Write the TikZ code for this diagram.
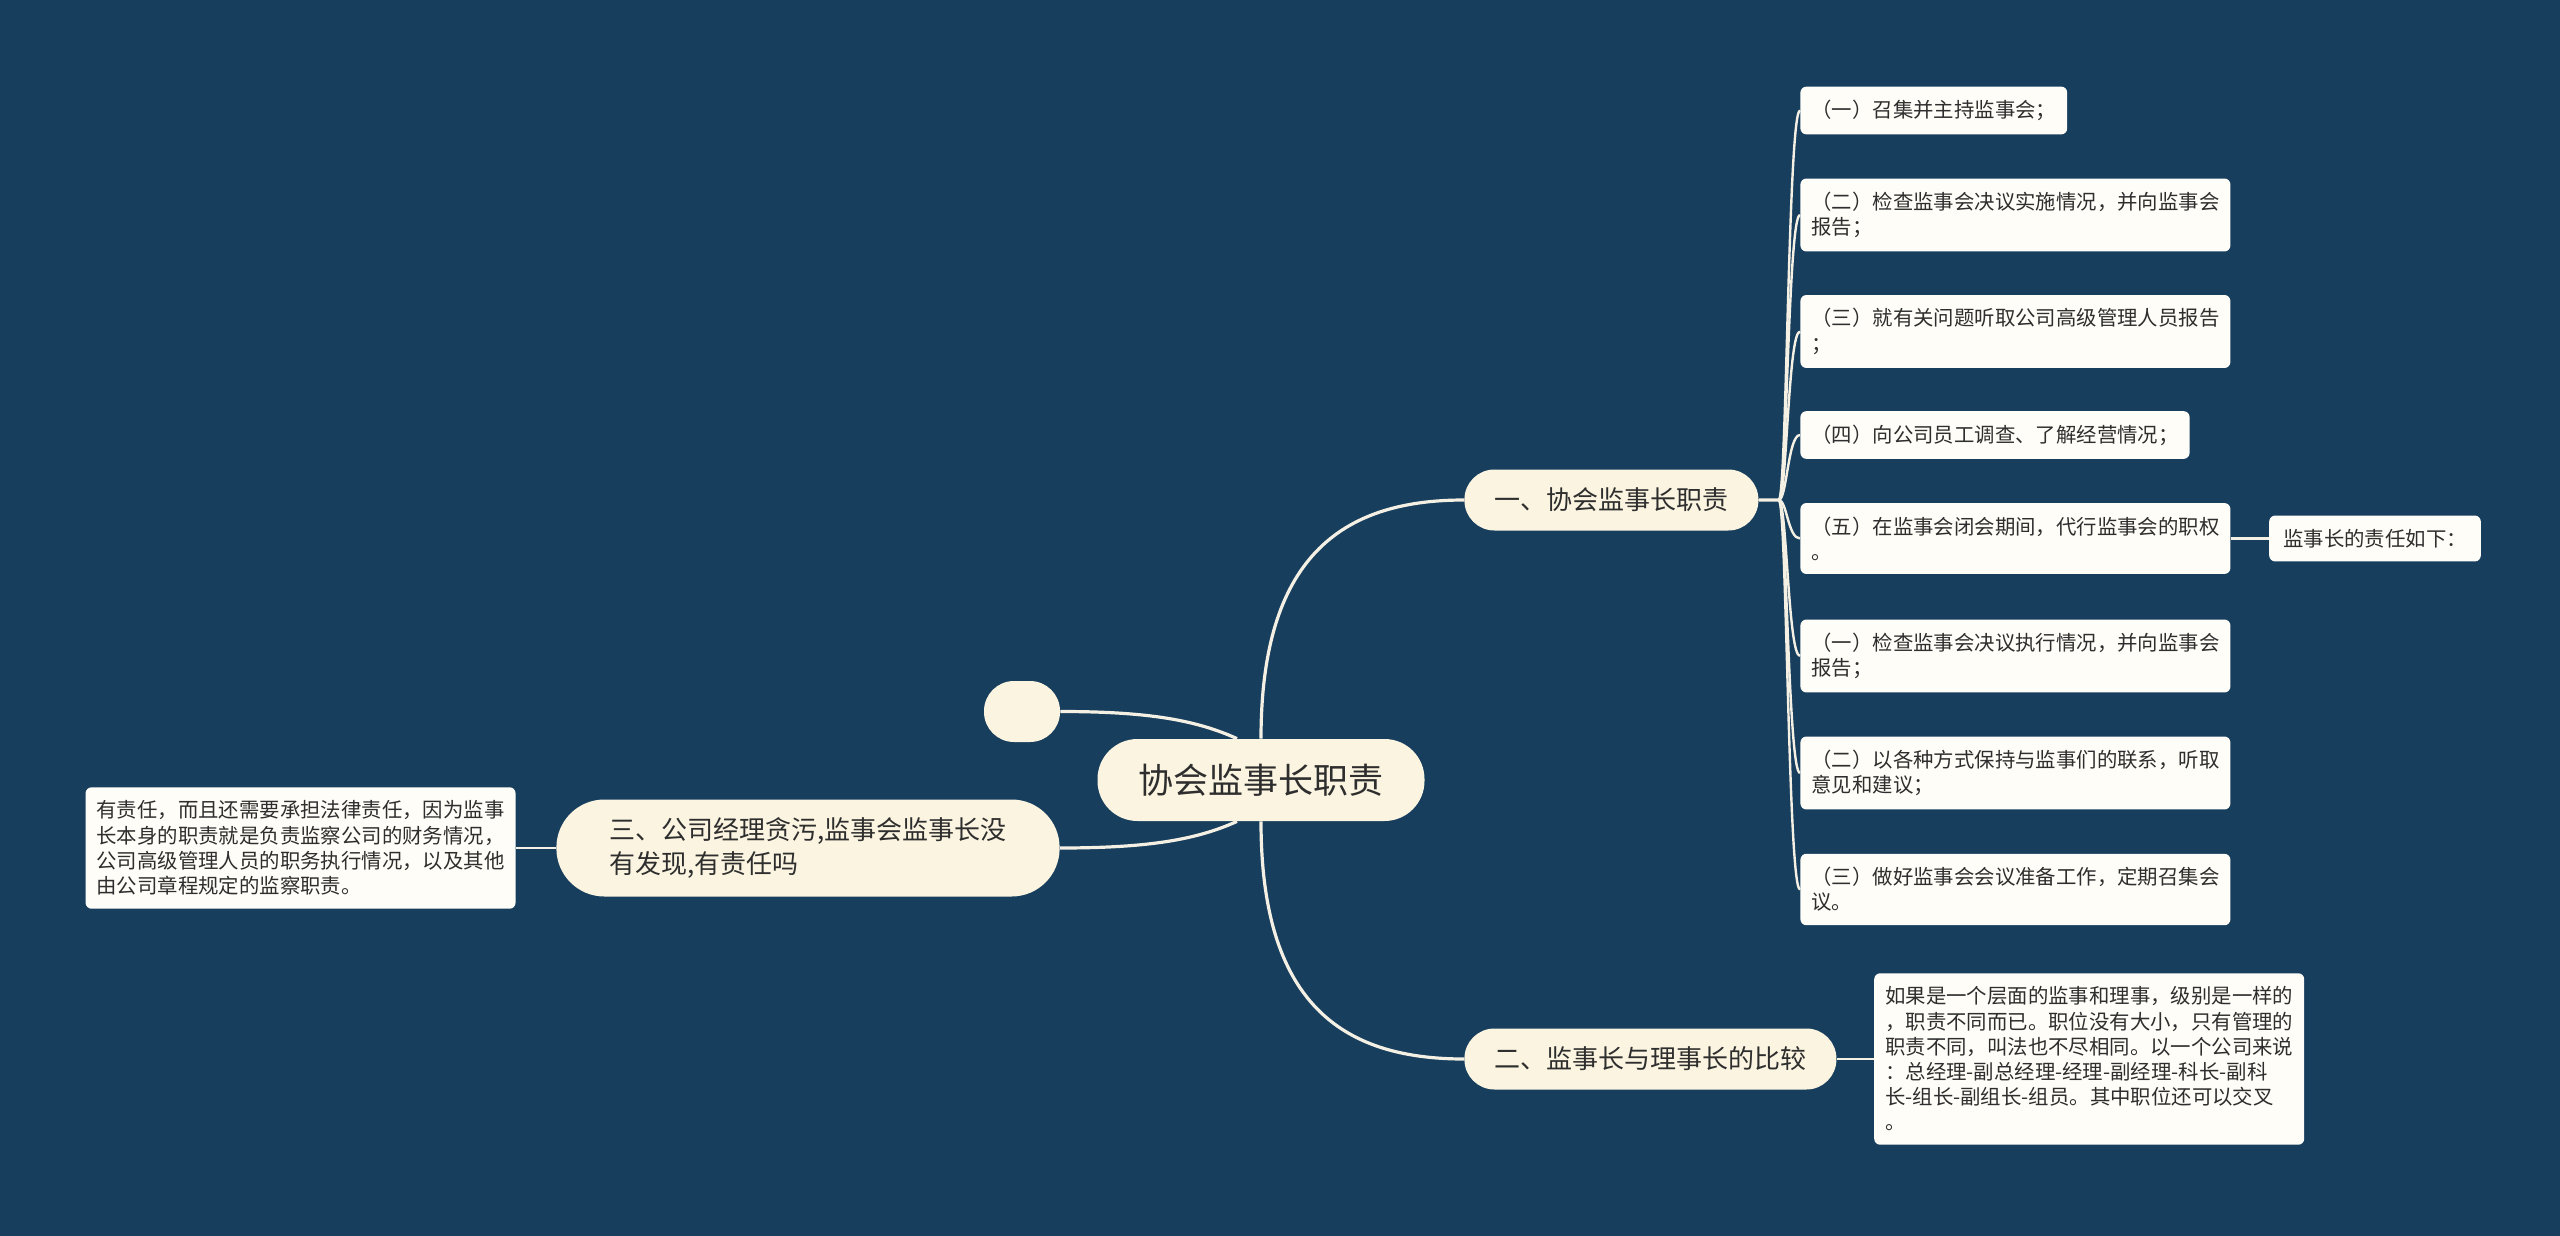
\documentclass[tikz,border=0pt]{standalone}
\usepackage{fontspec}
\setmainfont{Noto Sans CJK SC}
\usetikzlibrary{positioning, calc}

\definecolor{bgnavy}{HTML}{183E5E}
\definecolor{cream}{HTML}{FAF4E0}
\definecolor{paper}{HTML}{FEFDF7}
\definecolor{ink}{HTML}{2E2E2E}
\definecolor{wire}{HTML}{F4F0E4}

\begin{document}
\begin{tikzpicture}[
    x=0.5pt, y=-0.5pt,
    topic/.style={
        fill=cream, text=ink,
        rounded corners=20pt,
        minimum height=41pt,
        inner xsep=20.5pt,
        font=\fontsize{17.5}{21}\selectfont
    },
    branch/.style={
        fill=cream, text=ink,
        rounded corners=15pt,
        minimum height=30.5pt,
        inner xsep=15pt,
        font=\fontsize{13}{17}\selectfont
    },
    leaf/.style={
        fill=paper, text=ink,
        rounded corners=3pt,
        align=left,
        inner xsep=5.5pt, inner ysep=6.75pt,
        font=\fontsize{10.2}{12.6}\selectfont
    },
    link/.style={draw=wire, line width=1.2pt},
    mainlink/.style={draw=wire, line width=1.6pt}
]

\fill[bgnavy] (0,0) rectangle (2560,1236);
\useasboundingbox (0,0) rectangle (2560,1236);

\node[topic] (root) at (1261,780) {协会监事长职责};

\node[branch, anchor=west] (duty) at (1464,500) {一、协会监事长职责};
\node[branch, anchor=west] (compare) at (1464,1059) {二、监事长与理事长的比较};
\node[branch, align=left, rounded corners=24pt, minimum height=48.5pt, inner xsep=26.5pt] (liable) at (808,848) {三、公司经理贪污,监事会监事长没\\有发现,有责任吗};
\node[branch, minimum width=38pt] (blank) at (1022,711.5) {};

\node[leaf, anchor=west] (d1) at (1800,110.5) {（一）召集并主持监事会；};
\node[leaf, anchor=west] (d2) at (1800,215) {（二）检查监事会决议实施情况，并向监事会\\报告；};
\node[leaf, anchor=west] (d3) at (1800,331.5) {（三）就有关问题听取公司高级管理人员报告\\；};
\node[leaf, anchor=west] (d4) at (1800,435) {（四）向公司员工调查、了解经营情况；};
\node[leaf, anchor=west] (d5) at (1800,538.5) {（五）在监事会闭会期间，代行监事会的职权\\。};
\node[leaf, anchor=west] (d6) at (1800,656) {（一）检查监事会决议执行情况，并向监事会\\报告；};
\node[leaf, anchor=west] (d7) at (1800,773) {（二）以各种方式保持与监事们的联系，听取\\意见和建议；};
\node[leaf, anchor=west] (d8) at (1800,889.5) {（三）做好监事会会议准备工作，定期召集会\\议。};

\node[leaf, right=19pt of d5, inner xsep=7pt] (d5a) {监事长的责任如下：};

\node[leaf, right=18.5pt of compare] (c1) {如果是一个层面的监事和理事，级别是一样的\\，职责不同而已。职位没有大小，只有管理的\\职责不同，叫法也不尽相同。以一个公司来说\\：总经理-副总经理-经理-副经理-科长-副科\\长-组长-副组长-组员。其中职位还可以交叉\\。};

\node[leaf, left=20pt of liable] (a1) {有责任，而且还需要承担法律责任，因为监事\\长本身的职责就是负责监察公司的财务情况，\\公司高级管理人员的职务执行情况，以及其他\\由公司章程规定的监察职责。};

% main branches
\draw[mainlink] (root.north) .. controls +(0,-180) and +(-124,0) .. (duty.west);
\draw[mainlink] (root.south) .. controls +(0,180) and +(-124,0) .. (compare.west);
\draw[mainlink] (blank.east) .. controls +(90,0) and +(-40,-18) .. ($(root.north)+(-24,0)$);
\draw[mainlink] (liable.east) .. controls +(90,0) and +(-40,18) .. ($(root.south)+(-24,0)$);

% duties
\draw[link] (duty.east) -- ++(20,0) .. controls +(8,0) and +(-12,0) .. (d1.west);
\draw[link] (duty.east) -- ++(20,0) .. controls +(8,0) and +(-12,0) .. (d2.west);
\draw[link] (duty.east) -- ++(20,0) .. controls +(8,0) and +(-12,0) .. (d3.west);
\draw[link] (duty.east) -- ++(20,0) .. controls +(8,0) and +(-12,0) .. (d4.west);
\draw[link] (duty.east) -- ++(20,0) .. controls +(8,0) and +(-12,0) .. (d5.west);
\draw[link] (duty.east) -- ++(20,0) .. controls +(8,0) and +(-12,0) .. (d6.west);
\draw[link] (duty.east) -- ++(20,0) .. controls +(8,0) and +(-12,0) .. (d7.west);
\draw[link] (duty.east) -- ++(20,0) .. controls +(8,0) and +(-12,0) .. (d8.west);

\draw[link] (d5.east) -- (d5a.west);
\draw[link] (compare.east) -- (c1.west);
\draw[link] (liable.west) -- (a1.east);

\end{tikzpicture}
\end{document}
